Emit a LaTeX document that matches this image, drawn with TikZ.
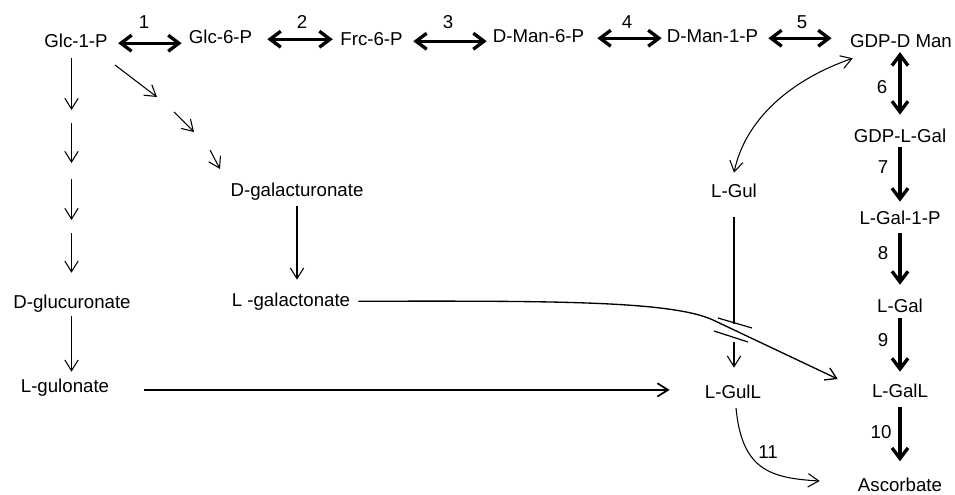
\documentclass[tikz,border=0pt]{standalone}
\usepackage{fontspec}
\setmainfont{Liberation Sans}
\usetikzlibrary{arrows.meta}

\begin{document}
\begin{tikzpicture}[x=0.75pt,y=-0.75pt,
  met/.style={anchor=base, inner sep=0pt, text height=10.05pt, text depth=2.9pt,
              font=\fontsize{14}{16}\selectfont},
  num/.style={inner sep=0pt, font=\fontsize{14}{16}\selectfont},
  flow/.style={line width=0.8pt, -{Straight Barb[length=8pt,width=10pt]}},
  flowtwo/.style={line width=0.8pt,
              {Straight Barb[length=8pt,width=10pt]}-{Straight Barb[length=8pt,width=10pt]}},
  plain/.style={line width=0.8pt},
  main/.style={line width=2.5pt, -{Straight Barb[length=8pt,width=12pt]}},
  mainboth/.style={line width=2.5pt,
              {Straight Barb[length=8pt,width=12pt]}-{Straight Barb[length=8pt,width=12pt]}},
]
\useasboundingbox (0,0) rectangle (955,495);

% metabolites
\node[met] (g1p)   at (76,48)    {Glc-1-P};
\node[met] (g6p)   at (220.5,44) {Glc-6-P};
\node[met] (f6p)   at (371.5,46) {Frc-6-P};
\node[met] (m6p)   at (538.5,43) {D-Man-6-P};
\node[met] (m1p)   at (712.5,43) {D-Man-1-P};
\node[met] (gdpm)  at (901,48)   {GDP-D Man};
\node[met] (gdpg)  at (900,143)  {GDP-L-Gal};
\node[met] (gal1p) at (900,224)  {L-Gal-1-P};
\node[met] (gal)   at (900,312)  {L-Gal};
\node[met] (galL)  at (900,397)  {L-GalL};
\node[met] (asc)   at (900,491)  {Ascorbate};
\node[met] (gul)   at (734,198)  {L-Gul};
\node[met] (gulL)  at (733,398)  {L-GulL};
\node[met] (dgalA) at (297,197)  {D-galacturonate};
\node[met] (lgalA) at (291,306)  {L -galactonate};
\node[met] (dgluA) at (72,308)   {D-glucuronate};
\node[met] (lgulA) at (65,392)   {L-gulonate};

% enzyme numbers
\node[num] (n1)  at (144,22)  {1};
\node[num] (n2)  at (302,22)  {2};
\node[num] (n3)  at (448,22)  {3};
\node[num] (n4)  at (627,22)  {4};
\node[num] (n5)  at (802,22)  {5};
\node[num] (n6)  at (882,87)  {6};
\node[num] (n7)  at (883,167) {7};
\node[num] (n8)  at (883,253) {8};
\node[num] (n9)  at (883,340) {9};
\node[num] (n10) at (881,432) {10};
\node[num] (n11) at (768,452) {11};

% reversible steps along the top row
\draw[mainboth, shorten <=7.7pt, shorten >=5.2pt]  (g1p.east) -- (g1p.east -| g6p.west);
\draw[mainboth, shorten <=11.2pt, shorten >=5.5pt] (g6p.east) -- (g6p.east -| f6p.west);
\draw[mainboth, shorten <=7.8pt, shorten >=4.4pt]  (f6p.east) -- (f6p.east -| m6p.west);
\draw[mainboth, shorten <=9.7pt, shorten >=3.7pt]  (m6p.east) -- (m6p.east -| m1p.west);
\draw[mainboth, shorten <=7.4pt, shorten >=13.7pt] (m1p.east) -- (m1p.east -| gdpm.west);

% main route down to ascorbate
\draw[mainboth, shorten >=11pt] (gdpm.south -| gdpg.north) -- (gdpg.north);
\draw[main, shorten >=6.5pt] (gdpg.south) -- (gal1p.north);
\draw[main, shorten <=3.8pt, shorten >=10.2pt] (gal1p.south) -- (gal.north);
\draw[main, shorten <=1.5pt, shorten >=8.7pt] (gal.south) -- (galL.north);
\draw[main, shorten <=4.5pt, shorten >=12pt] (galL.south) -- (asc.north);

% glucuronate branch
\coordinate (v1)  at (71.5,110);
\coordinate (v2a) at (71.5,123);
\coordinate (v2)  at (71.5,163);
\coordinate (v3a) at (71.5,179);
\coordinate (v3)  at (71.5,220);
\coordinate (v4a) at (71.5,233);
\draw[flow, shorten <=4.5pt] (g1p.south -| v1) -- (v1);
\draw[flow] (v2a) -- (v2);
\draw[flow] (v3a) -- (v3);
\draw[flow, shorten >=16.2pt] (v4a) -- (dgluA.north -| v4a);
\draw[flow, shorten <=3pt, shorten >=5pt] (dgluA.south -| v1) -- (lgulA.north -| v1);
\draw[line width=1.3pt, -{Straight Barb[length=8pt,width=10pt]},
      shorten <=26.3pt, shorten >=26.3pt]
  ([yshift=-2pt]lgulA.east) -- ([yshift=-2pt]lgulA.east -| gulL.west);

% galacturonate branch
\coordinate (d1a) at (115,65);
\coordinate (d1)  at (157,97);
\coordinate (d2a) at (174,112);
\coordinate (d2)  at (194,132);
\coordinate (d3a) at (210,150);
\coordinate (d3)  at (220,169);
\draw[flow] (d1a) -- (d1);
\draw[flow] (d2a) -- (d2);
\draw[flow] (d3a) -- (d3);
\draw[flow, shorten <=3.8pt, shorten >=9.5pt] (dgalA.south) -- (dgalA.south |- lgalA.north);
\draw[flow, line width=1pt] ([xshift=6pt]lgalA.east)
  .. controls (540,301) and (670,300) .. (713,320)
  -- ([xshift=-25.5pt,yshift=9.9pt]galL.west);

% gulose branch
\draw[flowtwo] ([yshift=8.7pt]gul.north)
  .. controls (745,120) and (790,80) .. ([xshift=2.1pt,yshift=-4.6pt]gdpm.south west);
\coordinate (jt) at (734,323.5);
\coordinate (jb) at (734,342);
\draw[plain, shorten <=11.3pt] (gul.south) -- (jt);
\draw[flow, shorten >=12.5pt] (jb) -- (gulL.north -| jb);
% line-jump bars where the galactonate route crosses
\draw[line width=0.9pt] (718,318) -- (752,328);
\draw[line width=0.9pt] (714,331) -- (748,342);

\draw[flow] ([xshift=2.25pt,yshift=-4.5pt]gulL.south)
  .. controls (742,470) and (770,478) .. ([xshift=-28.5pt,yshift=3.9pt]asc.west);
\end{tikzpicture}
\end{document}
